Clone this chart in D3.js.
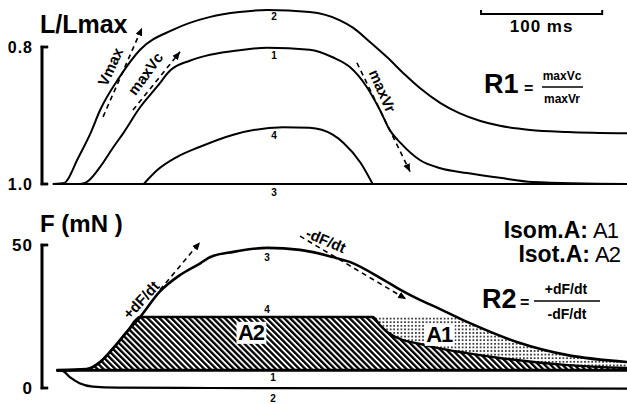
<!DOCTYPE html>
<html><head><meta charset="utf-8">
<script src="https://cdn.jsdelivr.net/npm/d3@7"></script>
<style>
html,body{margin:0;padding:0;background:#fff;}
svg{display:block;}
text{font-family:"Liberation Sans",Arial,Helvetica,sans-serif;fill:#000;}
</style></head><body>
<svg id="chart" width="627" height="404"></svg>
<script>
// ---------- DATA (time in ms, length L/Lmax, force mN) ----------
const lenT1 = [9,30,36,48,59,67,81,95,106,122,135,158,186,221,240,254,268,279,287,296,312,329,351,378,405,483];
const lenV1 = [1.0,1.0,0.998,0.975,0.946,0.926,0.888,0.858,0.834,0.820,0.813,0.806,0.801,0.804,0.815,0.829,0.858,0.892,0.921,0.940,0.965,0.977,0.984,0.991,0.997,1.0];
const lenT2 = [9,19,21,29,40,48,64,81,108,139,163,186,221,246,257,271,285,300,312,329,345,362,378,403,434,483];
const lenV2 = [1.0,0.998,0.994,0.965,0.926,0.892,0.844,0.804,0.775,0.756,0.749,0.746,0.749,0.761,0.772,0.793,0.815,0.841,0.860,0.882,0.897,0.908,0.915,0.921,0.924,0.926];
const lenT3 = [9,483];
const lenV3 = [1.0,1.0];
const lenT4 = [84,95,111,130,158,199,221,240,249,263,273];
const lenV4 = [1.0,0.980,0.961,0.946,0.928,0.917,0.918,0.928,0.940,0.969,1.0];

const forceT1 = [12,483];
const forceV1 = [6.2,6.2];
const forceT2 = [12,17,23,31,42,62,139,483];
const forceV2 = [6.2,6.0,3.8,1.7,0.5,0.1,0,-0.2];
const forceT3 = [12,37,48,59,70,81,97,114,131,139,158,186,213,240,254,282,296,312,323,351,392,434,483];
const forceV3 = [6.2,6.6,9.1,14.0,19.6,24.8,33.6,39.5,43.7,45.8,47.6,49.0,48.3,45.8,44.1,37.8,34.3,30.8,28.7,23.1,16.1,11.5,9.1];
const forceT4 = [12,37,48,59,70,81,273,279,285,296,312,323,351,378,434,483];
const forceV4 = [6.2,6.6,9.1,14.0,19.6,24.8,24.8,22.0,19.6,17.1,15.4,14.3,12.2,10.5,8.0,7.0];

const lenTicks = [0.8, 1.0];
const lenTickLabels = ["0.8", "1.0"];
const forceTicks = [0, 50];
const forceTickLabels = ["0", "50"];
const isotonicEndT = 273;      // end of isotonic plateau
const plateauForce = 24.8;     // isotonic load level
const scaleBarMs = 100;

// ---------- LAYOUT ----------
const svg = d3.select("#chart");
const x = d3.scaleLinear().domain([0, 483]).range([42, 627]);
const yL = d3.scaleLinear().domain([1.0, 0.8]).range([184, 47]);
const yF = d3.scaleLinear().domain([0, 50]).range([388, 245]);
const zip = (t, v) => t.map((d, i) => [d, v[i]]);

// defs: patterns and arrow
const defs = svg.append("defs");
const hatchPat = defs.append("pattern").attr("id", "hatchpat").attr("patternUnits", "userSpaceOnUse")
  .attr("width", 4.2).attr("height", 4.2).attr("patternTransform", "rotate(-45)");
hatchPat.append("rect").attr("width", 4.2).attr("height", 4.2).attr("fill", "#fff");
hatchPat.append("line").attr("x1", 1.1).attr("y1", 0).attr("x2", 1.1).attr("y2", 4.2)
  .attr("stroke", "#000").attr("stroke-width", 2.5);
const dotPat = defs.append("pattern").attr("id", "dotpat").attr("patternUnits", "userSpaceOnUse")
  .attr("width", 3.6).attr("height", 3.6);
dotPat.append("rect").attr("width", 3.6).attr("height", 3.6).attr("fill", "#fff");
dotPat.append("circle").attr("cx", 1.8).attr("cy", 1.8).attr("r", 0.9).attr("fill", "#000");
defs.append("marker").attr("id", "arr").attr("markerUnits", "userSpaceOnUse")
  .attr("markerWidth", 9).attr("markerHeight", 8).attr("refX", 8).attr("refY", 3.5)
  .attr("orient", "auto")
  .append("path").attr("d", "M0,0L8,3.5L0,7Z").attr("fill", "#000");

// ---------- TOP PANEL: length ----------
const lineL = d3.line().x(d => x(d[0])).y(d => yL(d[1])).curve(d3.curveMonotoneX);
[[lenT3, lenV3], [lenT4, lenV4], [lenT1, lenV1], [lenT2, lenV2]].forEach(([t, v]) => {
  svg.append("path").attr("d", lineL(zip(t, v))).attr("fill", "none")
    .attr("stroke", "#000").attr("stroke-width", 2);
});

svg.append("text").attr("x", 40).attr("y", 33).attr("font-size", 25).attr("font-weight", "bold").text("L/Lmax");

// curve numbers (top)
const numsTop = [["2", 191.6, 0.756], ["1", 191.6, 0.813], ["4", 191.6, 0.929], ["3", 191.6, 1.013]];
numsTop.forEach(([s, t, v]) => svg.append("text").attr("x", x(t)).attr("y", yL(v))
  .attr("dy", "0.35em").attr("text-anchor", "middle").attr("font-size", 10).attr("font-weight", "bold").text(s));

// scale bar
const sb0 = 362.5, sb1 = sb0 + scaleBarMs;
svg.append("path").attr("d", `M${x(sb0)},10V14H${x(sb1)}V10`).attr("fill", "none")
  .attr("stroke", "#000").attr("stroke-width", 2);
svg.append("text").attr("x", (x(sb0) + x(sb1)) / 2).attr("y", 32).attr("text-anchor", "middle")
  .attr("font-size", 17).attr("font-weight", "bold").attr("letter-spacing", 1).text("100 ms");

// R1
svg.append("text").attr("x", 484).attr("y", 93).attr("font-size", 27).attr("font-weight", "bold").text("R1");
svg.append("text").attr("x", 524).attr("y", 94).attr("font-size", 16).attr("font-weight", "bold").text("=");
svg.append("text").attr("x", 562).attr("y", 80).attr("text-anchor", "middle").attr("font-size", 12).attr("font-weight", "bold").text("maxVc");
svg.append("line").attr("x1", 542).attr("x2", 583).attr("y1", 87).attr("y2", 87).attr("stroke", "#000").attr("stroke-width", 1.3);
svg.append("text").attr("x", 562).attr("y", 103).attr("text-anchor", "middle").attr("font-size", 12).attr("font-weight", "bold").text("maxVr");

// annotations top
const annTop = [
  {label: "Vmax", from: [50.4, 0.902], to: [82.6, 0.772], at: [56.5, 0.829], angle: -65},
  {label: "maxVc", from: [75.1, 0.892], to: [114, 0.807], at: [85.5, 0.839], angle: -54},
  {label: "maxVr", from: [260, 0.823], to: [303.9, 0.982], at: [281, 0.864], angle: 66}
];
annTop.forEach(a => {
  svg.append("line").attr("x1", x(a.from[0])).attr("y1", yL(a.from[1]))
    .attr("x2", x(a.to[0])).attr("y2", yL(a.to[1]))
    .attr("stroke", "#000").attr("stroke-width", 1.6).attr("stroke-dasharray", "5,4")
    .attr("marker-end", "url(#arr)");
  svg.append("text").attr("transform", `translate(${x(a.at[0])},${yL(a.at[1])}) rotate(${a.angle})`)
    .attr("text-anchor", "middle").attr("dy", "0.35em").attr("font-size", 15).attr("font-weight", "bold").text(a.label);
});

// ---------- BOTTOM PANEL: force ----------
const areaHatch = d3.area().x(d => x(d[0])).y0(yF(forceV1[0])).y1(d => yF(d[1])).curve(d3.curveMonotoneX);
svg.append("path").attr("d", areaHatch(zip(forceT4, forceV4))).attr("fill", "url(#hatchpat)");

// clip under curve 3
const areaUnder3 = d3.area().x(d => x(d[0])).y0(yF(-5)).y1(d => yF(d[1])).curve(d3.curveMonotoneX);
defs.append("clipPath").attr("id", "under3").append("path").attr("d", areaUnder3(zip(forceT3, forceV3)));
const dotData = zip(forceT4, forceV4).filter(d => d[0] >= isotonicEndT);
const areaDots = d3.area().x(d => x(d[0])).y0(d => yF(d[1])).y1(yF(plateauForce)).curve(d3.curveMonotoneX);
svg.append("g").attr("clip-path", "url(#under3)")
  .append("path").attr("d", areaDots(dotData)).attr("fill", "url(#dotpat)");

const lineF = d3.line().x(d => x(d[0])).y(d => yF(d[1])).curve(d3.curveMonotoneX);
[[forceT2, forceV2, 2.2], [forceT1, forceV1, 3], [forceT4, forceV4, 2.4], [forceT3, forceV3, 2.6]].forEach(([t, v, w]) => {
  svg.append("path").attr("d", lineF(zip(t, v))).attr("fill", "none")
    .attr("stroke", "#000").attr("stroke-width", w);
});

svg.append("text").attr("x", 40).attr("y", 232).attr("font-size", 24).attr("font-weight", "bold").attr("xml:space", "preserve").text("F (mN )");

const numsBot = [["3", 185.8, 45.8], ["4", 185.8, 27.3], ["1", 190.7, 3.5], ["2", 190.7, -3.5]];
numsBot.forEach(([s, t, v]) => svg.append("text").attr("x", x(t)).attr("y", yF(v))
  .attr("dy", "0.35em").attr("text-anchor", "middle").attr("font-size", 10).attr("font-weight", "bold").text(s));

// area labels
const areaLabels = [["A2", 172.6, 19.6], ["A1", 328, 18.9]];
areaLabels.forEach(([s, t, v]) => {
  const g = svg.append("g").attr("transform", `translate(${x(t)},${yF(v)})`);
  const txt = g.append("text").attr("text-anchor", "middle").attr("dy", "0.36em")
    .attr("font-size", 22).attr("font-weight", 600).attr("letter-spacing", -1).text(s);
  const bb = txt.node().getBBox();
  g.insert("rect", "text").attr("x", bb.x - 1.5).attr("y", bb.y + 2).attr("width", bb.width + 3).attr("height", bb.height - 3).attr("fill", "#fff");
});

// annotations bottom
const annBot = [
  {label: "+dF/dt", from: [97.4, 34.3], to: [130.5, 51.0], at: [81.8, 30.8], angle: -47},
  {label: "-dF/dt", from: [213, 53.1], to: [300.6, 31.1], at: [234.5, 51.6], angle: 23}
];
annBot.forEach(a => {
  svg.append("line").attr("x1", x(a.from[0])).attr("y1", yF(a.from[1]))
    .attr("x2", x(a.to[0])).attr("y2", yF(a.to[1]))
    .attr("stroke", "#000").attr("stroke-width", 1.6).attr("stroke-dasharray", "5,4")
    .attr("marker-end", "url(#arr)");
  svg.append("text").attr("transform", `translate(${x(a.at[0])},${yF(a.at[1])}) rotate(${a.angle})`)
    .attr("text-anchor", "middle").attr("dy", "0.35em").attr("font-size", 15).attr("font-weight", "bold").text(a.label);
});

// right-side texts
svg.append("text").attr("x", 588).attr("y", 238).attr("text-anchor", "end").attr("font-size", 23).attr("font-weight", "bold").text("Isom.A:");
svg.append("text").attr("x", 593).attr("y", 238).attr("font-size", 22).attr("letter-spacing", -1).text("A1");
svg.append("text").attr("x", 590).attr("y", 262).attr("text-anchor", "end").attr("font-size", 23).attr("font-weight", "bold").text("Isot.A:");
svg.append("text").attr("x", 595).attr("y", 262).attr("font-size", 22).attr("letter-spacing", -1).text("A2");

svg.append("text").attr("x", 482).attr("y", 308).attr("font-size", 27).attr("font-weight", "bold").text("R2");
svg.append("text").attr("x", 520).attr("y", 308).attr("font-size", 16).attr("font-weight", "bold").text("=");
svg.append("text").attr("x", 566).attr("y", 294).attr("text-anchor", "middle").attr("font-size", 14).attr("font-weight", "bold").text("+dF/dt");
svg.append("line").attr("x1", 534).attr("x2", 600).attr("y1", 301).attr("y2", 301).attr("stroke", "#000").attr("stroke-width", 1.3);
svg.append("text").attr("x", 567).attr("y", 319).attr("text-anchor", "middle").attr("font-size", 14).attr("font-weight", "bold").text("-dF/dt");

// ---------- AXES: bracket drawn as filled rects + a line-generator path ----------
function axisBracket(scale, ticks, labels, fontSize) {
  const ax0 = x(0);
  const yA = scale(ticks[0]), yB = scale(ticks[1]);
  const yMin = Math.min(yA, yB), yMax = Math.max(yA, yB);
  const g = svg.append("g");
  g.append("rect").attr("x", ax0 - 1.3).attr("y", yMin - 1.2).attr("width", 2.6).attr("height", yMax - yMin + 2.4)
    .style("fill", "#000");
  g.append("rect").attr("x", ax0 - 1.3).attr("y", yMin - 1.2).attr("width", 7.5).attr("height", 2.4).style("fill", "#000");
  g.append("rect").attr("x", ax0 - 1.3).attr("y", yMax - 1.2).attr("width", 7.5).attr("height", 2.4).style("fill", "#000");
  const bracket = d3.line().x(d => x(d[0])).y(d => scale(d[1]));
  g.append("path").attr("d", bracket([[5, ticks[1]], [0, ticks[1]], [0, ticks[0]], [5, ticks[0]]]))
    .style("fill", "none").style("stroke", "#000").style("stroke-width", "2.6px");
  const axis = d3.axisLeft(scale).tickValues(ticks).tickSize(0).tickPadding(9)
    .tickFormat((d, i) => labels[i]);
  const ga = g.append("g").attr("transform", `translate(${ax0},0)`).call(axis);
  ga.select(".domain").remove();
  ga.selectAll(".tick line").remove();
  ga.selectAll("text").attr("font-size", fontSize).attr("font-weight", "bold")
    .attr("letter-spacing", 1).attr("font-family", "'Liberation Sans',Arial,sans-serif")
    .attr("fill", "#000");
}
axisBracket(yL, [1.0, 0.8], ["1.0", "0.8"].length ? lenTickLabels.slice().reverse() : lenTickLabels, 16);
axisBracket(yF, forceTicks, forceTickLabels, 17);
</script>
</body></html>
